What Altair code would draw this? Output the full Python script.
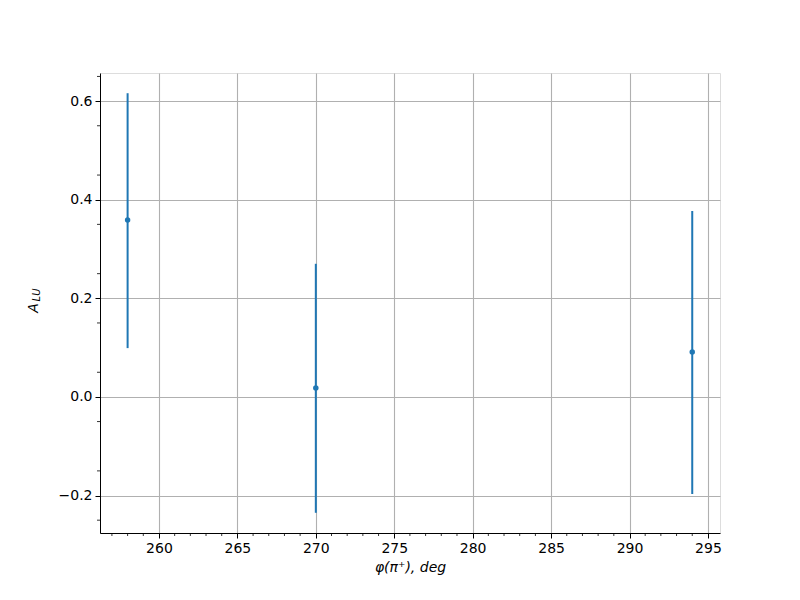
import altair as alt
import pandas as pd

phi = [258, 270, 294]
alu = [0.359, 0.018, 0.091]
alu_lo = [0.099, -0.235, -0.197]
alu_hi = [0.616, 0.270, 0.377]

x_minor = [v for v in range(257, 296) if v % 5 != 0]
y_minor = [round(-0.25 + 0.05 * i, 2) for i in range(19)]
y_minor = [v for v in y_minor if abs(round(v * 10) - v * 10) > 1e-6]

XDOM = [256.24, 295.77]
YDOM = [-0.276, 0.657]
W, H = 620, 460

df = pd.DataFrame({"phi": phi, "alu": alu, "lo": alu_lo, "hi": alu_hi})

xs = alt.Scale(domain=XDOM, nice=False, zero=False)
ys = alt.Scale(domain=YDOM, nice=False, zero=False)

base = alt.Chart(df)

err = base.mark_rule(color="#1f77b4", strokeWidth=2).encode(
    x=alt.X("phi:Q", scale=xs,
            axis=alt.Axis(values=[260, 265, 270, 275, 280, 285, 290, 295],
                          title="φ(π⁺), deg", titleFontStyle="italic",
                          titleFontWeight="normal", titleFontSize=14,
                          titlePadding=5, labelFontSize=14, labelPadding=3,
                          tickSize=5, tickColor="black", domainColor="black",
                          labelColor="black", titleColor="black",
                          gridColor="#b0b0b0", gridWidth=1.1)),
    y=alt.Y("lo:Q", scale=ys,
            axis=alt.Axis(values=[-0.2, 0.0, 0.2, 0.4, 0.6], format=".1f",
                          title=None, labelFontSize=14, labelPadding=3,
                          tickSize=5, tickColor="black", domainColor="black",
                          labelColor="black",
                          gridColor="#b0b0b0", gridWidth=1.1)),
    y2="hi:Q",
)

pts = base.mark_circle(color="#1f77b4", size=30, opacity=1).encode(
    x=alt.X("phi:Q", scale=xs), y=alt.Y("alu:Q", scale=ys)
)

xm = alt.Chart(pd.DataFrame({"v": x_minor})).mark_rule(color="black", strokeWidth=0.8).encode(
    x=alt.X("v:Q", scale=xs), y=alt.value(H), y2=alt.value(H + 3)
)
ym = alt.Chart(pd.DataFrame({"v": y_minor})).mark_rule(color="black", strokeWidth=0.8).encode(
    y=alt.Y("v:Q", scale=ys), x=alt.value(0), x2=alt.value(-3)
)

ylab_a = alt.Chart(pd.DataFrame({"t": ["A"]})).mark_text(
    angle=270, fontSize=14, fontStyle="italic", font="DejaVu Sans", color="black"
).encode(text="t:N", x=alt.value(-66), y=alt.value(235))
ylab_s = alt.Chart(pd.DataFrame({"t": ["LU"]})).mark_text(
    angle=270, fontSize=10, fontStyle="italic", font="DejaVu Sans", color="black"
).encode(text="t:N", x=alt.value(-63), y=alt.value(222))

chart = alt.layer(err, pts, xm, ym, ylab_a, ylab_s).properties(
    width=W, height=H,
    autosize=alt.AutoSizeParams(type="none"),
    padding={"left": 92, "top": 65, "right": 72, "bottom": 59},
).configure_view(stroke="black", strokeWidth=1).configure(
    font="DejaVu Sans"
)

chart.save("out.html", embed_options={"renderer": "svg", "actions": False})
